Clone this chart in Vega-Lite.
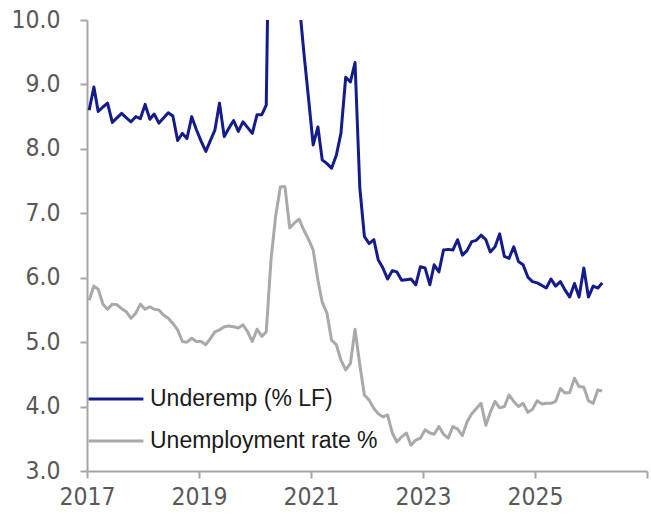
{
  "$schema": "https://vega.github.io/schema/vega-lite/v6.json",
  "width": 560,
  "height": 451,
  "autosize": {"type": "none"},
  "padding": {"left": 87, "top": 20, "right": 4, "bottom": 48},
  "background": "white",
  "config": {
    "view": {"stroke": null},
    "axis": {
      "grid": false,
      "domainColor": "#A6A6A6",
      "domainWidth": 2,
      "tickColor": "#A6A6A6",
      "tickWidth": 2,
      "tickSize": 7,
      "labelColor": "#595959",
      "labelFont": "DejaVu Sans Condensed, sans-serif",
      "labelFontSize": 24.5,
      "title": null
    }
  },
  "data": {
    "values": [
      {"date":"2017-01-15","Underemp (% LF)":8.60,"Unemployment rate %":5.65},
      {"date":"2017-02-15","Underemp (% LF)":8.96,"Unemployment rate %":5.87},
      {"date":"2017-03-15","Underemp (% LF)":8.58,"Unemployment rate %":5.82},
      {"date":"2017-04-15","Underemp (% LF)":8.65,"Unemployment rate %":5.59},
      {"date":"2017-05-15","Underemp (% LF)":8.71,"Unemployment rate %":5.51},
      {"date":"2017-06-15","Underemp (% LF)":8.41,"Unemployment rate %":5.59},
      {"date":"2017-07-15","Underemp (% LF)":8.48,"Unemployment rate %":5.58},
      {"date":"2017-08-15","Underemp (% LF)":8.55,"Unemployment rate %":5.52},
      {"date":"2017-09-15","Underemp (% LF)":8.48,"Unemployment rate %":5.47},
      {"date":"2017-10-15","Underemp (% LF)":8.42,"Unemployment rate %":5.37},
      {"date":"2017-11-15","Underemp (% LF)":8.50,"Unemployment rate %":5.45},
      {"date":"2017-12-15","Underemp (% LF)":8.47,"Unemployment rate %":5.59},
      {"date":"2018-01-15","Underemp (% LF)":8.69,"Unemployment rate %":5.51},
      {"date":"2018-02-15","Underemp (% LF)":8.46,"Unemployment rate %":5.55},
      {"date":"2018-03-15","Underemp (% LF)":8.54,"Unemployment rate %":5.51},
      {"date":"2018-04-15","Underemp (% LF)":8.40,"Unemployment rate %":5.50},
      {"date":"2018-05-15","Underemp (% LF)":8.48,"Unemployment rate %":5.42},
      {"date":"2018-06-15","Underemp (% LF)":8.56,"Unemployment rate %":5.37},
      {"date":"2018-07-15","Underemp (% LF)":8.51,"Unemployment rate %":5.29},
      {"date":"2018-08-15","Underemp (% LF)":8.13,"Unemployment rate %":5.19},
      {"date":"2018-09-15","Underemp (% LF)":8.24,"Unemployment rate %":5.01},
      {"date":"2018-10-15","Underemp (% LF)":8.16,"Unemployment rate %":5.00},
      {"date":"2018-11-15","Underemp (% LF)":8.50,"Unemployment rate %":5.06},
      {"date":"2018-12-15","Underemp (% LF)":8.30,"Unemployment rate %":5.01},
      {"date":"2019-01-15","Underemp (% LF)":8.12,"Unemployment rate %":5.01},
      {"date":"2019-02-15","Underemp (% LF)":7.96,"Unemployment rate %":4.96},
      {"date":"2019-03-15","Underemp (% LF)":8.12,"Unemployment rate %":5.05},
      {"date":"2019-04-15","Underemp (% LF)":8.29,"Unemployment rate %":5.16},
      {"date":"2019-05-15","Underemp (% LF)":8.71,"Unemployment rate %":5.19},
      {"date":"2019-06-15","Underemp (% LF)":8.19,"Unemployment rate %":5.24},
      {"date":"2019-07-15","Underemp (% LF)":8.32,"Unemployment rate %":5.25},
      {"date":"2019-08-15","Underemp (% LF)":8.44,"Unemployment rate %":5.24},
      {"date":"2019-09-15","Underemp (% LF)":8.27,"Unemployment rate %":5.22},
      {"date":"2019-10-15","Underemp (% LF)":8.42,"Unemployment rate %":5.27},
      {"date":"2019-11-15","Underemp (% LF)":8.33,"Unemployment rate %":5.16},
      {"date":"2019-12-15","Underemp (% LF)":8.24,"Unemployment rate %":5.01},
      {"date":"2020-01-15","Underemp (% LF)":8.53,"Unemployment rate %":5.20},
      {"date":"2020-02-15","Underemp (% LF)":8.53,"Unemployment rate %":5.09},
      {"date":"2020-03-15","Underemp (% LF)":8.68,"Unemployment rate %":5.16},
      {"date":"2020-04-15","Underemp (% LF)":13.8,"Unemployment rate %":6.28},
      {"date":"2020-05-15","Underemp (% LF)":13.1,"Unemployment rate %":6.95},
      {"date":"2020-06-15","Underemp (% LF)":11.7,"Unemployment rate %":7.41},
      {"date":"2020-07-15","Underemp (% LF)":11.2,"Unemployment rate %":7.41},
      {"date":"2020-08-15","Underemp (% LF)":11.2,"Unemployment rate %":6.77},
      {"date":"2020-09-15","Underemp (% LF)":11.3,"Unemployment rate %":6.85},
      {"date":"2020-10-15","Underemp (% LF)":10.3,"Unemployment rate %":6.91},
      {"date":"2020-11-15","Underemp (% LF)":9.5,"Unemployment rate %":6.74},
      {"date":"2020-12-15","Underemp (% LF)":8.8,"Unemployment rate %":6.60},
      {"date":"2021-01-15","Underemp (% LF)":8.06,"Unemployment rate %":6.43},
      {"date":"2021-02-15","Underemp (% LF)":8.34,"Unemployment rate %":5.96},
      {"date":"2021-03-15","Underemp (% LF)":7.83,"Unemployment rate %":5.62},
      {"date":"2021-04-15","Underemp (% LF)":7.77,"Unemployment rate %":5.45},
      {"date":"2021-05-15","Underemp (% LF)":7.70,"Unemployment rate %":5.03},
      {"date":"2021-06-15","Underemp (% LF)":7.90,"Unemployment rate %":4.96},
      {"date":"2021-07-15","Underemp (% LF)":8.24,"Unemployment rate %":4.72},
      {"date":"2021-08-15","Underemp (% LF)":9.11,"Unemployment rate %":4.57},
      {"date":"2021-09-15","Underemp (% LF)":9.04,"Unemployment rate %":4.67},
      {"date":"2021-10-15","Underemp (% LF)":9.34,"Unemployment rate %":5.20},
      {"date":"2021-11-15","Underemp (% LF)":7.40,"Unemployment rate %":4.65},
      {"date":"2021-12-15","Underemp (% LF)":6.64,"Unemployment rate %":4.18},
      {"date":"2022-01-15","Underemp (% LF)":6.53,"Unemployment rate %":4.10},
      {"date":"2022-02-15","Underemp (% LF)":6.59,"Unemployment rate %":3.97},
      {"date":"2022-03-15","Underemp (% LF)":6.28,"Unemployment rate %":3.89},
      {"date":"2022-04-15","Underemp (% LF)":6.15,"Unemployment rate %":3.84},
      {"date":"2022-05-15","Underemp (% LF)":5.98,"Unemployment rate %":3.87},
      {"date":"2022-06-15","Underemp (% LF)":6.11,"Unemployment rate %":3.59},
      {"date":"2022-07-15","Underemp (% LF)":6.09,"Unemployment rate %":3.45},
      {"date":"2022-08-15","Underemp (% LF)":5.96,"Unemployment rate %":3.53},
      {"date":"2022-09-15","Underemp (% LF)":5.97,"Unemployment rate %":3.59},
      {"date":"2022-10-15","Underemp (% LF)":5.98,"Unemployment rate %":3.40},
      {"date":"2022-11-15","Underemp (% LF)":5.89,"Unemployment rate %":3.48},
      {"date":"2022-12-15","Underemp (% LF)":6.17,"Unemployment rate %":3.51},
      {"date":"2023-01-15","Underemp (% LF)":6.15,"Unemployment rate %":3.64},
      {"date":"2023-02-15","Underemp (% LF)":5.89,"Unemployment rate %":3.59},
      {"date":"2023-03-15","Underemp (% LF)":6.20,"Unemployment rate %":3.57},
      {"date":"2023-04-15","Underemp (% LF)":6.09,"Unemployment rate %":3.69},
      {"date":"2023-05-15","Underemp (% LF)":6.43,"Unemployment rate %":3.57},
      {"date":"2023-06-15","Underemp (% LF)":6.44,"Unemployment rate %":3.51},
      {"date":"2023-07-15","Underemp (% LF)":6.43,"Unemployment rate %":3.69},
      {"date":"2023-08-15","Underemp (% LF)":6.59,"Unemployment rate %":3.65},
      {"date":"2023-09-15","Underemp (% LF)":6.35,"Unemployment rate %":3.55},
      {"date":"2023-10-15","Underemp (% LF)":6.42,"Unemployment rate %":3.76},
      {"date":"2023-11-15","Underemp (% LF)":6.56,"Unemployment rate %":3.89},
      {"date":"2023-12-15","Underemp (% LF)":6.58,"Unemployment rate %":3.97},
      {"date":"2024-01-15","Underemp (% LF)":6.66,"Unemployment rate %":4.05},
      {"date":"2024-02-15","Underemp (% LF)":6.59,"Unemployment rate %":3.71},
      {"date":"2024-03-15","Underemp (% LF)":6.40,"Unemployment rate %":3.91},
      {"date":"2024-04-15","Underemp (% LF)":6.48,"Unemployment rate %":4.08},
      {"date":"2024-05-15","Underemp (% LF)":6.68,"Unemployment rate %":3.98},
      {"date":"2024-06-15","Underemp (% LF)":6.33,"Unemployment rate %":4.00},
      {"date":"2024-07-15","Underemp (% LF)":6.30,"Unemployment rate %":4.18},
      {"date":"2024-08-15","Underemp (% LF)":6.48,"Unemployment rate %":4.08},
      {"date":"2024-09-15","Underemp (% LF)":6.25,"Unemployment rate %":4.00},
      {"date":"2024-10-15","Underemp (% LF)":6.20,"Unemployment rate %":4.05},
      {"date":"2024-11-15","Underemp (% LF)":6.01,"Unemployment rate %":3.91},
      {"date":"2024-12-15","Underemp (% LF)":5.94,"Unemployment rate %":3.96},
      {"date":"2025-01-15","Underemp (% LF)":5.92,"Unemployment rate %":4.09},
      {"date":"2025-02-15","Underemp (% LF)":5.88,"Unemployment rate %":4.04},
      {"date":"2025-03-15","Underemp (% LF)":5.84,"Unemployment rate %":4.05},
      {"date":"2025-04-15","Underemp (% LF)":5.98,"Unemployment rate %":4.05},
      {"date":"2025-05-15","Underemp (% LF)":5.87,"Unemployment rate %":4.08},
      {"date":"2025-06-15","Underemp (% LF)":5.94,"Unemployment rate %":4.28},
      {"date":"2025-07-15","Underemp (% LF)":5.81,"Unemployment rate %":4.21},
      {"date":"2025-08-15","Underemp (% LF)":5.70,"Unemployment rate %":4.22},
      {"date":"2025-09-15","Underemp (% LF)":5.91,"Unemployment rate %":4.44},
      {"date":"2025-10-15","Underemp (% LF)":5.70,"Unemployment rate %":4.31},
      {"date":"2025-11-15","Underemp (% LF)":6.15,"Unemployment rate %":4.30},
      {"date":"2025-12-15","Underemp (% LF)":5.70,"Unemployment rate %":4.09},
      {"date":"2026-01-15","Underemp (% LF)":5.87,"Unemployment rate %":4.05},
      {"date":"2026-02-15","Underemp (% LF)":5.84,"Unemployment rate %":4.26},
      {"date":"2026-03-15","Underemp (% LF)":5.92,"Unemployment rate %":4.24}
    ]
  },
  "transform": [
    {"fold": ["Underemp (% LF)", "Unemployment rate %"], "as": ["series", "value"]}
  ],
  "mark": {"type": "line", "clip": true, "strokeWidth": 3, "strokeJoin": "round"},
  "encoding": {
    "x": {
      "field": "date",
      "type": "temporal",
      "scale": {"type": "utc", "domain": [{"year": 2017, "month": 1, "date": 1, "utc": true}, {"year": 2027, "month": 1, "date": 1, "utc": true}]},
      "axis": {
        "values": [
          {"year": 2017, "month": 1, "date": 1, "utc": true},
          {"year": 2019, "month": 1, "date": 1, "utc": true},
          {"year": 2021, "month": 1, "date": 1, "utc": true},
          {"year": 2023, "month": 1, "date": 1, "utc": true},
          {"year": 2025, "month": 1, "date": 1, "utc": true},
          {"year": 2027, "month": 1, "date": 1, "utc": true}
        ],
        "labelExpr": "utcFormat(datum.value, '%Y') == '2027' ? '' : utcFormat(datum.value, '%Y')",
        "labelOverlap": false,
        "labelFlush": false,
        "labelPadding": 7
      }
    },
    "y": {
      "field": "value",
      "type": "quantitative",
      "scale": {"domain": [3, 10], "nice": false, "zero": false},
      "axis": {"values": [3, 4, 5, 6, 7, 8, 9, 10], "format": ".1f", "labelPadding": 20}
    },
    "color": {
      "field": "series",
      "type": "nominal",
      "scale": {"domain": ["Underemp (% LF)", "Unemployment rate %"], "range": ["#141C8C", "#A9A9A9"]},
      "legend": {
        "orient": "none",
        "legendX": 0,
        "legendY": 350,
        "title": null,
        "symbolType": "stroke",
        "symbolSize": 3000,
        "symbolStrokeWidth": 3,
        "labelFontSize": 23,
        "labelFont": "Liberation Sans",
        "labelColor": "#1A1A1A",
        "labelOffset": 5,
        "labelLimit": 400,
        "rowPadding": 1,
        "padding": 0
      }
    }
  }
}
